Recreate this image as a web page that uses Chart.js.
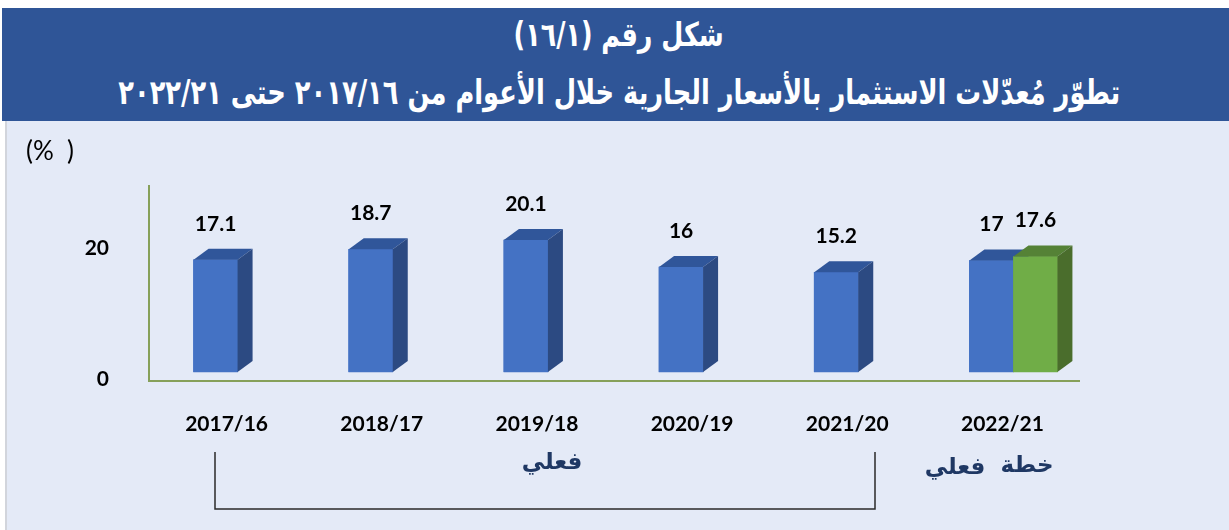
<!DOCTYPE html>
<html><head><meta charset="utf-8">
<script src="https://cdn.jsdelivr.net/npm/chart.js@4"></script>
<style>
body{margin:0;background:#fff;width:1229px;height:530px;overflow:hidden;position:relative;font-family:Lato,sans-serif}
#hdr{position:absolute;left:2px;top:8px;width:1227px;height:113px;background:#2F5597;color:#fff;font-family:"DejaVu Sans",sans-serif;font-weight:bold;direction:rtl}
.t{position:absolute;left:617px;width:0;display:flex;justify-content:center;white-space:nowrap;line-height:1}
.t span{display:inline-block;flex:none;transform-origin:center center}
#panel{position:absolute;left:5px;top:121px;width:1222px;height:409px;background:#E4EAF7;border-left:2px solid #D2D5DC}
#wrap{position:absolute;left:0;top:121px;width:1229px;height:409px}
</style></head>
<body>
<div id="hdr">
  <div class="t" id="l1" style="top:10px;font-size:33px"><span data-w="210">شكل رقم (١٦/١)</span></div>
  <div class="t" id="l2" style="top:67px;font-size:34px"><span data-w="1002">تطوّر مُعدّلات الاستثمار بالأسعار الجارية خلال الأعوام من ٢٠١٧/١٦ حتى ٢٠٢٢/٢١</span></div>
</div>
<div id="panel"></div>
<div id="wrap"><canvas id="c" width="1229" height="409"></canvas></div>
<script>
const categories = ['2017/16','2018/17','2019/18','2020/19','2021/20','2022/21'];
const actualValues = [17.1, 18.7, 20.1, 16, 15.2, 17];
const planValues = [null, null, null, null, null, 17.6];
const yTicks = [0, 20];
const seriesNames = ['فعلي', 'خطة'];
const unitLabel = '(%  )';

document.querySelectorAll('.t span').forEach(s=>{
  const w = s.getBoundingClientRect().width;
  const target = +s.dataset.w;
  s.style.transform = 'scaleX(' + (target / w) + ')';
});

const OY = 121;
const DX = 15, DY = 11;

const threeD = {
  id: 'threeD',
  beforeDatasetsDraw(chart){
    const ctx = chart.ctx, a = chart.chartArea;
    ctx.save();
    ctx.strokeStyle = '#86A05A';
    ctx.lineWidth = 2;
    ctx.beginPath();
    ctx.moveTo(a.left - 11, a.top);
    ctx.lineTo(a.left - 11, a.bottom + 9);
    ctx.lineTo(a.right - 11, a.bottom + 9);
    ctx.stroke();
    // unit label
    ctx.fillStyle = '#000';
    ctx.font = '26px Lato';
    ctx.textAlign = 'left';
    ctx.textBaseline = 'middle';
    ctx.fillText(unitLabel, 26, 152 - OY);
    // bracket
    ctx.strokeStyle = '#2a2a2a';
    ctx.lineWidth = 1.5;
    ctx.beginPath();
    ctx.moveTo(215, 452 - OY);
    ctx.lineTo(215, 509 - OY);
    ctx.lineTo(875, 509 - OY);
    ctx.lineTo(875, 452 - OY);
    ctx.stroke();
    ctx.fillStyle = '#1F3864';
    ctx.font = 'bold 23px "DejaVu Sans"';
    ctx.textAlign = 'center';
    ctx.direction = 'rtl';
    ctx.fillText(seriesNames[0], 552, 463 - OY);
    ctx.fillText(seriesNames[0], 955, 468 - OY);
    ctx.fillText(seriesNames[1], 1027, 466 - OY);
    ctx.restore();
  },
  afterDatasetsDraw(chart){
    const ctx = chart.ctx;
    ctx.save();
    chart.data.datasets.forEach((ds, di)=>{
      const meta = chart.getDatasetMeta(di);
      meta.data.forEach((bar, i)=>{
        if (ds.data[i] == null) return;
        const p = bar.getProps(['x','y','base','width'], true);
        bar.draw(ctx);
        const l = p.x - p.width/2, r = p.x + p.width/2;
        ctx.fillStyle = ds.topColor;
        ctx.beginPath();
        ctx.moveTo(l, p.y); ctx.lineTo(l + DX, p.y - DY); ctx.lineTo(r + DX, p.y - DY); ctx.lineTo(r, p.y);
        ctx.closePath(); ctx.fill();
        ctx.fillStyle = ds.sideColor;
        ctx.beginPath();
        ctx.moveTo(r, p.y); ctx.lineTo(r + DX, p.y - DY); ctx.lineTo(r + DX, p.base - DY); ctx.lineTo(r, p.base);
        ctx.closePath(); ctx.fill();
      });
    });
    // value labels
    ctx.fillStyle = '#000';
    ctx.font = 'bold 21px Lato';
    ctx.textAlign = 'center';
    ctx.textBaseline = 'middle';
    chart.data.datasets.forEach((ds, di)=>{
      const meta = chart.getDatasetMeta(di);
      meta.data.forEach((bar, i)=>{
        if (ds.data[i] == null) return;
        ctx.fillText(String(ds.data[i]), bar.x, bar.y - 36);
      });
    });
    ctx.restore();
  }
};

new Chart(document.getElementById('c'), {
  type: 'bar',
  data: {
    labels: categories,
    datasets: [
      {label: seriesNames[0], data: actualValues, backgroundColor: '#4472C4', topColor: '#30569A', sideColor: '#2C4A82', barThickness: 44},
      {label: seriesNames[1], data: planValues, backgroundColor: '#70AD47', topColor: '#558236', sideColor: '#4A6D2C', barThickness: 44}
    ]
  },
  options: {
    responsive: false,
    animation: false,
    events: [],
    layout: {padding: {top: 64, right: 138, left: 0, bottom: 0}},
    plugins: {legend: {display: false}, tooltip: {enabled: false}, title: {display: false}},
    scales: {
      x: {
        grid: {display: false}, border: {display: false},
        afterFit: s => { s.height = 158; },
        ticks: {color: '#000', font: {family: 'Lato', weight: 'bold', size: 21}, padding: 32, labelOffset: -11, maxRotation: 0}
      },
      y: {
        min: 0, max: 28.5,
        grid: {display: false}, border: {display: false},
        afterFit: s => { s.width = 160; },
        afterBuildTicks: s => { s.ticks = yTicks.map(v => ({value: v})); },
        ticks: {color: '#000', font: {family: 'Lato', weight: 'bold', size: 21}, padding: 43, labelOffset: 7}
      }
    }
  },
  plugins: [threeD]
});
</script>
</body></html>
